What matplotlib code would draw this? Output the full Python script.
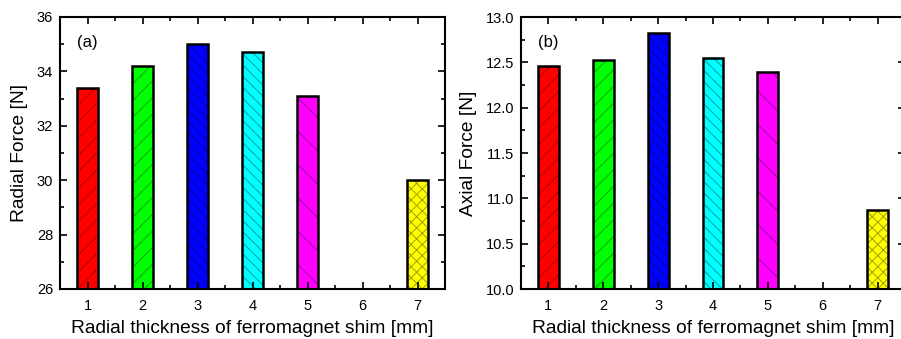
import matplotlib
matplotlib.use("Agg")
import matplotlib.pyplot as plt
from matplotlib.ticker import MultipleLocator, FormatStrFormatter

plt.rcParams['font.family'] = ['Liberation Sans', 'DejaVu Sans']
plt.rcParams['hatch.linewidth'] = 0.7

thickness = [1, 2, 3, 4, 5, 7]
radial_force = [33.4, 34.2, 35.0, 34.7, 33.1, 30.0]
axial_force = [12.46, 12.53, 12.82, 12.55, 12.39, 10.87]
colors = ['#ff0000', '#00ff00', '#0000ff', '#00ffff', '#ff00ff', '#ffff00']
hatch_colors = ['#b00000', '#00a800', '#0000a0', '#00a0a0', '#a000a0', '#a0a000']
hatches = ['//', '//', '\\\\\\', '\\\\\\', '\\', 'xxx']

fig = plt.figure(figsize=(9.01, 3.39), dpi=100)
W, H = 901, 339
ax1 = fig.add_axes([60 / W, 1 - 289 / H, 385 / W, 272 / H])
ax2 = fig.add_axes([521 / W, 1 - 289 / H, 384 / W, 272 / H])

def style(ax, vals, ylim, major, minor, ylabel, tag):
    for x, v, c, hc, h in zip(thickness, vals, colors, hatch_colors, hatches):
        # hatch layer first (hatch takes the edge colour), then the black outline
        ax.bar(x, v - ylim[0], bottom=ylim[0], width=0.38, color=c,
               edgecolor=hc, linewidth=0, hatch=h)
        ax.bar(x, v - ylim[0], bottom=ylim[0], width=0.38, fill=False,
               edgecolor='black', linewidth=1.8)
    ax.set_xlim(0.5, 7.5)
    ax.set_ylim(*ylim)
    ax.xaxis.set_major_locator(MultipleLocator(1))
    ax.xaxis.set_minor_locator(MultipleLocator(0.5))
    ax.yaxis.set_major_locator(MultipleLocator(major))
    ax.yaxis.set_minor_locator(MultipleLocator(minor))
    ax.tick_params(which='both', direction='in', top=True, right=True,
                   labelsize=10.5, width=1.2)
    ax.tick_params(axis='x', which='major', pad=7)
    ax.tick_params(axis='y', which='major', pad=5)
    ax.tick_params(which='major', length=5)
    ax.tick_params(which='minor', length=3)
    for s in ax.spines.values():
        s.set_linewidth(1.5)
    ax.set_xlabel('Radial thickness of ferromagnet shim [mm]', fontsize=13.8, labelpad=5)
    ax.set_ylabel(ylabel, fontsize=13.8, labelpad=6)
    ax.text(0.044, 0.908, tag, transform=ax.transAxes, fontsize=12, va='center')

style(ax1, radial_force, (26, 36), 2, 1, 'Radial Force [N]', '(a)')
style(ax2, axial_force, (10, 13), 0.5, 0.25, 'Axial Force [N]', '(b)')
ax2.yaxis.set_major_formatter(FormatStrFormatter('%.1f'))

fig.savefig('out.png', dpi=100)
